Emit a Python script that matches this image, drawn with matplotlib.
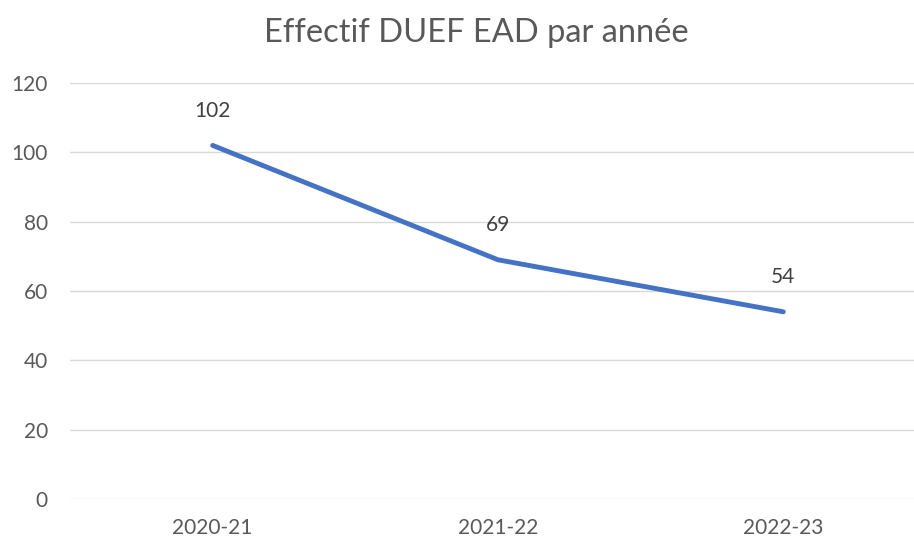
import matplotlib.pyplot as plt

annees = ["2020-21", "2021-22", "2022-23"]
effectifs = [102, 69, 54]

plt.rcParams['font.family'] = ['Lato', 'DejaVu Sans']
gris = "#595959"

fig = plt.figure(figsize=(9.14, 5.4), dpi=100)
# zone de tracé : gauche a 70 px, coupee a droite par le bord de l'image
ax = fig.add_axes([70/914, 41/540, 844/914, 416/540])

x = range(len(annees))
ax.plot(x, effectifs, color="#4472C4", linewidth=3.5, solid_capstyle="round", zorder=3)
for xi, v in zip(x, effectifs):
    ax.annotate(str(v), (xi, v), xytext=(0, 25), textcoords="offset points",
                ha="center", va="center", fontsize=15, color="#404040")

ax.set_xlim(-0.5, 2.458)
ax.set_ylim(0, 120)
ax.set_yticks(range(0, 121, 20))
ax.set_xticks(list(x))
ax.set_xticklabels(annees)
ax.grid(axis="y", color="#d9d9d9", linewidth=1)
ax.set_axisbelow(True)
for s in ax.spines.values():
    s.set_visible(False)
ax.tick_params(axis="both", length=0, labelsize=15, colors=gris)
ax.tick_params(axis="y", pad=16)
ax.tick_params(axis="x", pad=14)

fig.text(476/914, 1 - 33/540, "Effectif DUEF EAD par année", ha="center", va="center",
         fontsize=23.5, color=gris)

fig.savefig("out.png", dpi=100)
